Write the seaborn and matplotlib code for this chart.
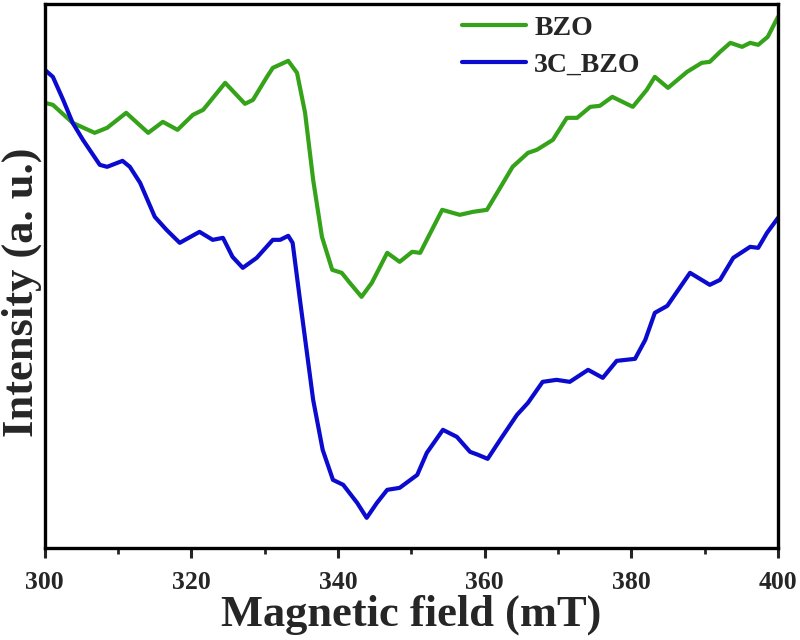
import pandas as pd
import matplotlib
matplotlib.use('Agg')
import matplotlib.pyplot as plt
import seaborn as sns
from matplotlib.ticker import MultipleLocator

sns.set_style('white')
plt.rcParams['font.family'] = ['Liberation Serif', 'DejaVu Serif']
plt.rcParams['font.weight'] = 'bold'

# field (mT) and intensity (a. u.)
bzo_field = [300.0, 301.1, 303.8, 306.8, 308.5, 311.1, 314.1, 316.1, 318.1, 320.2,
             321.6, 324.6, 327.3, 328.4, 330.3, 331.1, 333.2, 334.4, 335.5, 336.6,
             337.8, 339.2, 340.5, 341.6, 343.2, 344.6, 346.7, 348.4, 350.1, 351.2,
             352.1, 354.2, 356.6, 358.4, 360.3, 362.1, 363.8, 365.9, 367.1, 369.3,
             371.2, 372.6, 374.4, 375.7, 377.4, 380.2, 382.1, 383.2, 385.0, 387.6,
             389.6, 390.7, 392.1, 393.5, 395.1, 396.2, 397.3, 398.6, 400.0]
bzo_int = [445, 443, 425, 415, 420, 435, 415, 426, 418, 433,
           438, 465, 444, 448, 471, 480, 487, 475, 435, 368,
           311, 278, 275, 265, 251, 265, 295, 286, 296, 295,
           308, 338, 333, 336, 338, 360, 381, 395, 398, 408,
           430, 430, 441, 442, 451, 441, 458, 471, 460, 476,
           485, 486, 496, 505, 501, 505, 503, 511, 531]

c3_field = [300.0, 301.1, 302.5, 303.8, 305.2, 307.5, 308.5, 310.6, 311.6, 313.0,
            315.0, 316.6, 318.4, 321.1, 322.9, 324.3, 325.6, 327.0, 328.9, 331.1,
            332.1, 333.2, 333.8, 334.8, 335.7, 336.6, 337.9, 339.3, 340.7, 342.6,
            343.9, 345.3, 346.7, 348.4, 350.8, 352.1, 354.3, 356.2, 358.0, 359.1,
            360.4, 362.1, 364.4, 365.9, 367.9, 369.8, 371.6, 374.1, 376.1, 378.0,
            380.5, 381.9, 383.2, 384.9, 388.0, 390.7, 392.1, 393.9, 396.2, 397.3,
            398.5, 400.0]
c3_int = [478, 471, 448, 425, 408, 383, 381, 387, 381, 365,
          331, 318, 305, 316, 308, 310, 291, 280, 290, 308,
          308, 312, 305, 248, 198, 148, 98, 68, 63, 45,
          30, 45, 58, 60, 73, 95, 118, 111, 96, 93,
          89, 108, 133, 145, 166, 168, 166, 178, 170, 187,
          189, 208, 235, 242, 275, 263, 268, 290, 301, 300,
          315, 330]

df = pd.concat([
    pd.DataFrame({'field': bzo_field, 'intensity': bzo_int, 'sample': 'BZO'}),
    pd.DataFrame({'field': c3_field, 'intensity': c3_int, 'sample': '3C_BZO'}),
])

fig = plt.figure(figsize=(8, 6.4), dpi=100)
ax = fig.add_axes([0.056, 0.144, 0.9165, 0.85])

sns.lineplot(data=df, x='field', y='intensity', hue='sample', sort=False,
             palette={'BZO': '#35a31a', '3C_BZO': '#0b0bcf'},
             linewidth=3, solid_joinstyle='round', ax=ax)

ax.set_xlim(300, 400)
ax.set_ylim(0, 544)
ax.set_yticks([])
ax.xaxis.set_major_locator(MultipleLocator(20))
ax.xaxis.set_minor_locator(MultipleLocator(10))
ax.tick_params(axis='x', which='major', direction='out', length=7, width=2.2,
               labelsize=18.5, bottom=True, pad=10)
ax.tick_params(axis='x', which='minor', direction='out', length=4, width=2,
               bottom=True)
for lab in ax.get_xticklabels():
    lab.set_fontweight('bold')
for s in ax.spines.values():
    s.set_linewidth(2.4)
    s.set_color('black')

ax.set_xlabel('Magnetic field (mT)', fontsize=32, fontweight='bold', labelpad=0)
ax.set_ylabel('Intensity (a. u.)', fontsize=32, fontweight='bold')
ax.yaxis.set_label_coords(-0.004, 0.47)

leg = ax.legend(loc='upper left', bbox_to_anchor=(0.535, 1.025), frameon=False,
                handlelength=2.3, handletextpad=0.3,
                labelspacing=0.4, prop={'weight': 'bold', 'size': 20})

fig.savefig('out.png', dpi=100)
